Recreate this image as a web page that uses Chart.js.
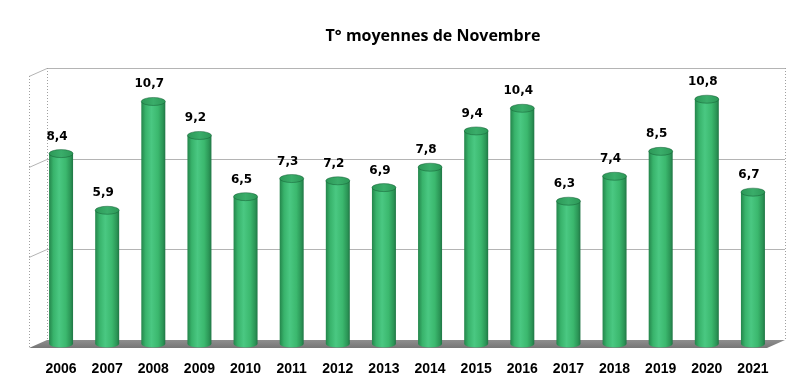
<!DOCTYPE html>
<html>
<head>
<meta charset="utf-8">
<script src="https://cdn.jsdelivr.net/npm/chart.js@4/dist/chart.umd.min.js"></script>
<style>
  html, body { margin: 0; padding: 0; background: #fff; }
  #wrap { width: 810px; height: 389px; }
</style>
</head>
<body>
<div id="wrap"><canvas id="chartNov" width="810" height="389"></canvas></div>
<script>
const annees = ["2006", "2007", "2008", "2009", "2010", "2011", "2012", "2013",
                "2014", "2015", "2016", "2017", "2018", "2019", "2020", "2021"];
const tempMoy = [8.4, 5.9, 10.7, 9.2, 6.5, 7.3, 7.2, 6.9, 7.8, 9.4, 10.4, 6.3, 7.4, 8.5, 10.8, 6.7];
const graduations = [0, 4, 8, 12];
const titre = "T° moyennes de Novembre";

// profondeur 3D (demi-décalage entre plan des barres et mur du fond)
const DX = 9, DY = 4;

// mur, sol et grille façon Excel 3D
const murPlugin = {
    id: "mur",
    beforeDatasetsDraw(chart) {
        const { ctx, chartArea: a, scales: { y } } = chart;
        const g = y.getPixelForValue(0);
        const top = y.getPixelForValue(12);
        ctx.save();

        // sol
        const gs = ctx.createLinearGradient(0, g - DY, 0, g + DY);
        gs.addColorStop(0, "#8e8e8e");
        gs.addColorStop(1, "#767676");
        ctx.fillStyle = gs;
        ctx.beginPath();
        ctx.moveTo(a.left - DX, g + DY);
        ctx.lineTo(a.right - DX, g + DY);
        ctx.lineTo(a.right + DX, g - DY);
        ctx.lineTo(a.left + DX, g - DY);
        ctx.closePath();
        ctx.fill();

        // lignes de grille (fond + mur gauche)
        ctx.strokeStyle = "#b4b4b4";
        ctx.lineWidth = 1;
        graduations.slice(1).forEach(v => {
            const py = Math.round(y.getPixelForValue(v) - DY) + 0.5;
            ctx.beginPath();
            ctx.moveTo(a.left - DX, py + 2 * DY);
            ctx.lineTo(a.left + DX, py);
            ctx.lineTo(a.right + DX, py);
            ctx.stroke();
        });

        // arêtes pointillées
        ctx.setLineDash([1, 2]);
        ctx.strokeStyle = "#a0a0a0";
        [[a.left - DX, top + DY, a.left - DX, g + DY],
         [a.left + DX, top - DY, a.left + DX, g - DY],
         [a.right + DX, top - DY, a.right + DX, g - DY]].forEach(l => {
            ctx.beginPath();
            ctx.moveTo(Math.round(l[0]) + 0.5, l[1]);
            ctx.lineTo(Math.round(l[2]) + 0.5, l[3]);
            ctx.stroke();
        });
        ctx.restore();
    },
    afterDatasetsDraw(chart) {
        const { ctx } = chart;
        const meta = chart.getDatasetMeta(0);
        ctx.save();
        meta.data.forEach((bar, i) => {
            const r = bar.width / 2;
            // fond arrondi du cylindre
            ctx.fillStyle = corpsGradient(ctx, bar.x, r);
            ctx.beginPath();
            ctx.ellipse(bar.x, bar.base, r, 3.5, 0, 0, Math.PI);
            ctx.fill();
            // dessus du cylindre
            const gt = ctx.createLinearGradient(bar.x - r, 0, bar.x + r, 0);
            gt.addColorStop(0, "#2c9857");
            gt.addColorStop(0.5, "#3aad6a");
            gt.addColorStop(1, "#2c9857");
            ctx.fillStyle = gt;
            ctx.beginPath();
            ctx.ellipse(bar.x, bar.y, r, 4, 0, 0, Math.PI * 2);
            ctx.fill();
            ctx.strokeStyle = "rgba(20,90,50,0.6)";
            ctx.lineWidth = 0.8;
            ctx.stroke();

            // étiquette
            ctx.font = "bold 12px 'DejaVu Sans'";
            ctx.fillStyle = "#000";
            ctx.textAlign = "center";
            ctx.textBaseline = "alphabetic";
            ctx.fillText(String(tempMoy[i]).replace(".", ","), bar.x - 4, bar.y - 14);
        });

        // titre
        ctx.font = "bold 16px 'Open Sans'";
        ctx.fillStyle = "#000";
        ctx.textAlign = "center";
        ctx.textBaseline = "middle";
        ctx.fillText(titre, 433, 36);
        ctx.restore();
    }
};

function corpsGradient(ctx, cx, r) {
    const gr = ctx.createLinearGradient(cx - r, 0, cx + r, 0);
    gr.addColorStop(0, "#24854b");
    gr.addColorStop(0.18, "#38b36b");
    gr.addColorStop(0.42, "#4ac882");
    gr.addColorStop(0.7, "#3bb86e");
    gr.addColorStop(0.9, "#2b9556");
    gr.addColorStop(1, "#207645");
    return gr;
}

new Chart(document.getElementById("chartNov"), {
    type: "bar",
    data: {
        labels: annees,
        datasets: [{
            data: tempMoy,
            borderWidth: 0,
            backgroundColor: c => {
                const chart = c.chart;
                if (!chart.chartArea || c.dataIndex === undefined) return "#3cb56a";
                const x = chart.scales.x;
                const step = x.getPixelForValue(1) - x.getPixelForValue(0);
                return corpsGradient(chart.ctx, x.getPixelForValue(c.dataIndex), step * 0.52 / 2);
            },
            barPercentage: 0.52,
            categoryPercentage: 1
        }]
    },
    options: {
        responsive: false,
        animation: false,
        layout: { padding: { left: 38, right: 34, top: 72, bottom: 0 } },
        plugins: {
            legend: { display: false },
            tooltip: { enabled: false }
        },
        scales: {
            x: {
                grid: { display: false },
                border: { display: false },
                ticks: {
                    color: "#000",
                    padding: 9,
                    font: { family: "'Liberation Sans'", size: 14, weight: "bold" }
                },
                afterFit: s => { s.height = 45; }
            },
            y: {
                display: false,
                min: 0,
                max: 12,
                ticks: { stepSize: 4 }
            }
        }
    },
    plugins: [murPlugin]
});
</script>
</body>
</html>
